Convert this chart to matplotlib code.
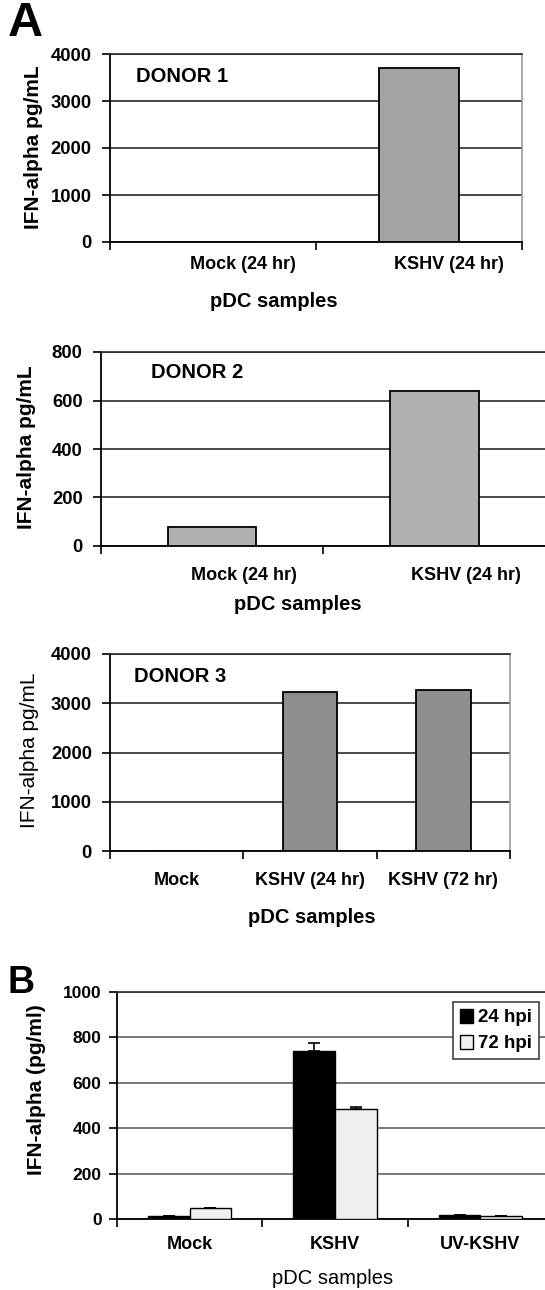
import matplotlib
matplotlib.use("Agg")
import matplotlib.pyplot as plt
from matplotlib.patches import Patch
from matplotlib.transforms import ScaledTranslation
import numpy as np

plt.rcParams['font.family'] = ['Liberation Sans', 'DejaVu Sans']

# data
d1_labels = ["Mock (24 hr)", "KSHV (24 hr)"]
d1_values = [0, 3700]

d2_labels = ["Mock (24 hr)", "KSHV (24 hr)"]
d2_values = [78, 640]

d3_labels = ["Mock", "KSHV (24 hr)", "KSHV (72 hr)"]
d3_values = [0, 3230, 3270]

b_labels = ["Mock", "KSHV", "UV-KSHV"]
b_24hpi = [13, 741, 18]
b_72hpi = [50, 483, 15]
b_24hpi_err = [0, 36, 0]
b_72hpi_err = [0, 11, 0]

W, H = 545, 1290
fig = plt.figure(figsize=(W / 100, H / 100), dpi=100)


def px_axes(left, top, right, bottom):
    return fig.add_axes([left / W, 1 - bottom / H, (right - left) / W, (bottom - top) / H])


def style(ax, ymax, ystep, ncat, right_color="#999999", ypad=7, ysize=13.3):
    ax.set_xlim(0, ncat)
    ax.set_ylim(0, ymax)
    yt = np.arange(0, ymax + 1, ystep)
    ax.set_yticks(yt, labels=[str(v) for v in yt], fontsize=ysize, fontweight="bold")
    ax.set_xticks(np.arange(ncat + 1), minor=True)
    ax.tick_params(axis="x", which="minor", length=6, width=1.2, direction="out", color="black")
    ax.tick_params(axis="x", which="major", length=0)
    ax.tick_params(axis="y", length=6, width=1.2, direction="out", pad=ypad)
    ax.grid(axis="y", color="#2a2a2a", lw=1.2)
    ax.set_axisbelow(True)
    ax.spines["left"].set_linewidth(1.3)
    ax.spines["bottom"].set_linewidth(1.3)
    ax.spines["top"].set_color("#2a2a2a")
    ax.spines["top"].set_linewidth(1.2)
    ax.spines["right"].set_color(right_color)
    ax.spines["right"].set_linewidth(1.2)


def cat_labels(ax, labels, pad, shift_px=0):
    centers = np.arange(len(labels)) + 0.5
    ax.set_xticks(centers, labels=labels, fontsize=13, fontweight="bold")
    ax.tick_params(axis="x", which="major", pad=pad)
    if shift_px:
        for t in ax.get_xticklabels():
            t.set_transform(t.get_transform() + ScaledTranslation(shift_px / 100, 0, fig.dpi_scale_trans))


def labels(ax, xl, xpos, ylab, ypos, yweight="bold", xweight="bold"):
    ax.set_xlabel(xl, fontsize=14.5, fontweight=xweight)
    ax.xaxis.label.set_va("center")
    ax.xaxis.set_label_coords(*xpos)
    ax.set_ylabel(ylab, fontsize=15, fontweight=yweight)
    ax.yaxis.label.set_va("center")
    ax.yaxis.set_label_coords(*ypos)


# Panel A, donor 1
ax1 = px_axes(109.5, 54, 522.4, 242)
style(ax1, 4000, 1000, 2)
ax1.bar(np.arange(2) + 0.5, d1_values, width=0.39, color="#a3a3a3", edgecolor="black", lw=1.3, zorder=3)
cat_labels(ax1, d1_labels, pad=10, shift_px=30)
labels(ax1, "pDC samples", (0.398, -0.314), "IFN-alpha pg/mL", (-0.185, 0.505))
ax1.text(0.063, 0.878, "DONOR 1", transform=ax1.transAxes, fontsize=14.5, fontweight="bold", va="center")

# Panel A, donor 2
ax2 = px_axes(100.8, 352, 545.5, 546)
style(ax2, 800, 200, 2)
ax2.bar(np.arange(2) + 0.5, d2_values, width=0.40, color="#b0b0b0", edgecolor="black", lw=1.3, zorder=3)
cat_labels(ax2, d2_labels, pad=15, shift_px=32)
labels(ax2, "pDC samples", (0.444, -0.299), "IFN-alpha pg/mL", (-0.168, 0.51))
ax2.text(0.113, 0.893, "DONOR 2", transform=ax2.transAxes, fontsize=14.5, fontweight="bold", va="center")

# Panel A, donor 3
ax3 = px_axes(110, 654, 510, 851)
style(ax3, 4000, 1000, 3)
ax3.bar(np.arange(3) + 0.5, d3_values, width=0.41, color="#8e8e8e", edgecolor="black", lw=1.3, zorder=3)
cat_labels(ax3, d3_labels, pad=15)
labels(ax3, "pDC samples", (0.505, -0.340), "IFN-alpha pg/mL", (-0.201, 0.513), yweight="normal")
ax3.text(0.061, 0.888, "DONOR 3", transform=ax3.transAxes, fontsize=14.5, fontweight="bold", va="center")

# Panel B
axb = px_axes(117, 992, 553, 1219)
style(axb, 1000, 200, 3, ypad=5, ysize=12.5)
axb.grid(axis="y", color="#555555", lw=1.1)
xb = np.arange(3) + 0.5
bw = 0.286
axb.bar(xb - bw / 2, b_24hpi, width=bw, color="black", edgecolor="black", lw=1.0, zorder=3,
        yerr=[np.zeros(3), b_24hpi_err], error_kw=dict(capsize=4, elinewidth=1.2, capthick=1.2, ecolor="black"))
axb.bar(xb + bw / 2, b_72hpi, width=bw, color="#efefef", edgecolor="black", lw=1.0, zorder=3,
        yerr=[np.zeros(3), b_72hpi_err], error_kw=dict(capsize=4, elinewidth=1.2, capthick=1.2, ecolor="black"))
cat_labels(axb, b_labels, pad=12)
labels(axb, "pDC samples", (0.495, -0.26), "IFN-alpha (pg/ml)", (-0.185, 0.568), xweight="normal")
handles = [Patch(facecolor="black", edgecolor="black", label="24 hpi"),
           Patch(facecolor="#efefef", edgecolor="black", label="72 hpi")]
leg = axb.legend(handles=handles, loc="upper right", bbox_to_anchor=(539 / W, 1 - 1002 / H),
                 bbox_transform=fig.transFigure, fancybox=False, framealpha=1, edgecolor="#333333",
                 handlelength=0.7, handleheight=0.8, handletextpad=0.3, borderpad=0.35, labelspacing=0.45,
                 borderaxespad=0, prop=dict(weight="bold", size=13.5))
leg.get_frame().set_linewidth(1.1)

fig.text(8 / W, 1 - 24 / H, "A", fontsize=35, fontweight="bold", va="center", ha="left")
fig.text(7 / W, 1 - 983 / H, "B", fontsize=27, fontweight="bold", va="center", ha="left")

fig.savefig("out.png", dpi=100)
